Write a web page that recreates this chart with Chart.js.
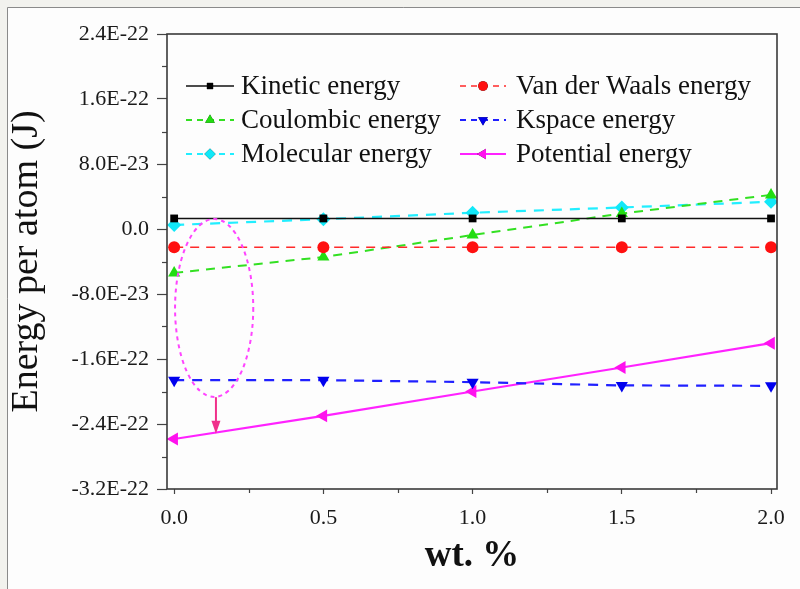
<!DOCTYPE html>
<html>
<head>
<meta charset="utf-8">
<script src="https://cdn.jsdelivr.net/npm/chart.js@4/dist/chart.umd.min.js"></script>
<style>
  html, body { margin: 0; padding: 0; background: #ffffff; }
  #wrap { width: 800px; height: 589px; position: relative; }
</style>
</head>
<body>
<div id="wrap"><canvas id="c" width="800" height="589"></canvas></div>
<script>
// ---- data ----
const wtPercent = [0.0, 0.5, 1.0, 1.5, 2.0];
const kineticEnergy    = [1.3e-23, 1.3e-23, 1.3e-23, 1.3e-23, 1.3e-23];
const vanDerWaals      = [-2.25e-23, -2.25e-23, -2.25e-23, -2.25e-23, -2.25e-23];
const coulombicEnergy  = [-5.4e-23, -3.45e-23, -7.4e-24, 1.9e-23, 4.2e-23];
const kspaceEnergy     = [-1.86e-22, -1.86e-22, -1.885e-22, -1.925e-22, -1.93e-22];
const molecularEnergy  = [5.0e-24, 1.2e-23, 2.0e-23, 2.65e-23, 3.35e-23];
const potentialEnergy  = [-2.585e-22, -2.30e-22, -2.00e-22, -1.705e-22, -1.405e-22];
const seriesNames = ["Kinetic energy", "Van der Waals energy", "Coulombic energy",
                     "Kspace energy", "Molecular energy", "Potential energy"];
const yTickValues = [-3.2e-22, -2.4e-22, -1.6e-22, -8.0e-23, 0, 8.0e-23, 1.6e-22, 2.4e-22];
const xTickValues = [0.0, 0.5, 1.0, 1.5, 2.0];
const yTitle = "Energy per atom (J)";
const xTitle = "wt. %";

const pts = arr => wtPercent.map((x, i) => ({x: x, y: arr[i]}));
const SERIF = "'Liberation Serif', 'DejaVu Serif', serif";

const datasets = [
  {label: seriesNames[0], data: pts(kineticEnergy), borderColor: '#111111', backgroundColor: '#000000',
   borderWidth: 1.6, pointStyle: 'rect', pointRadius: 5.5, borderDash: []},
  {label: seriesNames[1], data: pts(vanDerWaals), borderColor: '#ff2a2a', backgroundColor: '#ff1010',
   borderWidth: 1.6, pointStyle: 'circle', pointRadius: 6, borderDash: [9, 7]},
  {label: seriesNames[2], data: pts(coulombicEnergy), borderColor: '#33e022', backgroundColor: '#22dd11',
   borderWidth: 2, pointStyle: 'triangle', pointRadius: 7, borderDash: [9, 7]},
  {label: seriesNames[3], data: pts(kspaceEnergy), borderColor: '#2020ff', backgroundColor: '#0000ee',
   borderWidth: 2.2, pointStyle: 'triangle', pointRotation: 180, pointRadius: 7, borderDash: [10, 8]},
  {label: seriesNames[4], data: pts(molecularEnergy), borderColor: '#22eeff', backgroundColor: '#11e8f8',
   borderWidth: 2.2, pointStyle: 'rectRot', pointRadius: 7, borderDash: [10, 8]},
  {label: seriesNames[5], data: pts(potentialEnergy), borderColor: '#ff22ff', backgroundColor: '#ff11ee',
   borderWidth: 2.2, pointStyle: 'triangle', pointRotation: -90, pointRadius: 7.5, borderDash: []}
];
datasets.forEach(d => { d.pointBorderWidth = 0; d.pointBorderColor = d.backgroundColor; d.tension = 0; });

// annotation (in data units)
const ellipseNote = {cx: 0.134, cy: -0.972e-22, rx: 0.131, ry: 1.095e-22};
const arrowNote = {x: 0.14, yFrom: -2.07e-22, yTo: -2.52e-22};

function fmtTick(v) {
  if (Math.abs(v) < 1e-30) return '0.0';
  return v.toExponential(1).replace('e', 'E').replace('+', '');
}

const framePlugin = {
  id: 'frame',
  beforeDraw(chart) {
    const ctx = chart.ctx;
    ctx.save();
    ctx.fillStyle = '#f2f2ee';
    ctx.fillRect(0, 0, 800, 589);
    ctx.fillStyle = '#fdfdfd';
    ctx.fillRect(8, 8, 792, 581);
    ctx.strokeStyle = '#8a8a8a';
    ctx.lineWidth = 1;
    ctx.beginPath();
    ctx.moveTo(7.5, 589); ctx.lineTo(7.5, 7.5); ctx.lineTo(800, 7.5);
    ctx.stroke();
    ctx.restore();
  },
  afterDraw(chart) {
    const ctx = chart.ctx;
    const a = chart.chartArea;
    const xs = chart.scales.x, ys = chart.scales.y;
    ctx.save();
    ctx.strokeStyle = '#444444';
    ctx.lineWidth = 1.2;
    for (let i = 0; i < yTickValues.length - 1; i++) {
      const v = (yTickValues[i] + yTickValues[i + 1]) / 2;
      const py = Math.round(ys.getPixelForValue(v)) + 0.5;
      ctx.beginPath(); ctx.moveTo(a.left - 5, py); ctx.lineTo(a.left, py); ctx.stroke();
    }
    for (let i = 0; i < xTickValues.length - 1; i++) {
      const v = (xTickValues[i] + xTickValues[i + 1]) / 2;
      const px = Math.round(xs.getPixelForValue(v)) + 0.5;
      ctx.beginPath(); ctx.moveTo(px, a.bottom); ctx.lineTo(px, a.bottom + 4); ctx.stroke();
    }
    ctx.strokeStyle = '#3a3a3a';
    ctx.lineWidth = 1.6;
    ctx.strokeRect(a.left, a.top, a.right - a.left, a.bottom - a.top);
    ctx.restore();
  }
};

const notePlugin = {
  id: 'notes',
  afterDatasetsDraw(chart) {
    const ctx = chart.ctx;
    const xs = chart.scales.x, ys = chart.scales.y;
    const cx = xs.getPixelForValue(ellipseNote.cx);
    const cy = ys.getPixelForValue(ellipseNote.cy);
    const rx = xs.getPixelForValue(ellipseNote.cx + ellipseNote.rx) - cx;
    const ry = ys.getPixelForValue(ellipseNote.cy - ellipseNote.ry) - cy;
    ctx.save();
    ctx.strokeStyle = '#ff44ff';
    ctx.lineWidth = 2;
    ctx.setLineDash([4, 4]);
    ctx.beginPath();
    ctx.ellipse(cx, cy, rx, ry, 0, 0, Math.PI * 2);
    ctx.stroke();
    ctx.setLineDash([]);
    const ax = xs.getPixelForValue(arrowNote.x);
    const y1 = ys.getPixelForValue(arrowNote.yFrom);
    const y2 = ys.getPixelForValue(arrowNote.yTo);
    ctx.strokeStyle = '#f0308a';
    ctx.fillStyle = '#f0308a';
    ctx.lineWidth = 2;
    ctx.beginPath(); ctx.moveTo(ax, y1); ctx.lineTo(ax, y2 - 10); ctx.stroke();
    ctx.beginPath(); ctx.moveTo(ax - 4.5, y2 - 13); ctx.lineTo(ax + 4.5, y2 - 13); ctx.lineTo(ax, y2); ctx.closePath(); ctx.fill();
    ctx.restore();
  }
};

const legendPlugin = {
  id: 'customLegend',
  afterDraw(chart) {
    const ctx = chart.ctx;
    const cols = [{lx0: 186, lx1: 234, tx: 241}, {lx0: 460, lx1: 506, tx: 516}];
    const rows = [86, 120, 154];
    ctx.save();
    chart.data.datasets.forEach((ds, i) => {
      const c = cols[i % 2];
      const y = rows[Math.floor(i / 2)];
      ctx.strokeStyle = ds.borderColor;
      ctx.lineWidth = ds.borderWidth;
      ctx.setLineDash(ds.borderDash && ds.borderDash.length ? [6, 5] : []);
      ctx.beginPath(); ctx.moveTo(c.lx0, y); ctx.lineTo(c.lx1, y); ctx.stroke();
      ctx.setLineDash([]);
      Chart.helpers.drawPoint(ctx, {
        pointStyle: ds.pointStyle, rotation: ds.pointRotation || 0,
        radius: ds.pointRadius * 0.8, borderWidth: 0
      }, (c.lx0 + c.lx1) / 2, y);
      ctx.fillStyle = ds.backgroundColor;
      ctx.fill();
      ctx.fillStyle = '#111111';
      ctx.font = "27px " + SERIF;
      ctx.textBaseline = 'middle';
      ctx.textAlign = 'left';
      ctx.fillText(ds.label, c.tx, y + 1);
    });
    ctx.restore();
  }
};

new Chart(document.getElementById('c'), {
  type: 'line',
  data: {datasets: datasets},
  plugins: [framePlugin, notePlugin, legendPlugin],
  options: {
    responsive: false,
    animation: false,
    devicePixelRatio: 1,
    layout: {padding: {left: 0, top: 34, right: 23, bottom: 0}},
    plugins: {legend: {display: false}, tooltip: {enabled: false}},
    scales: {
      x: {
        type: 'linear', min: -0.024, max: 2.02,
        afterBuildTicks(s) { s.ticks = xTickValues.map(v => ({value: v})); },
        afterFit(s) { s.height = 100; },
        ticks: {callback: v => v.toFixed(1), color: '#1a1a1a', font: {family: SERIF, size: 22}, padding: 11, maxRotation: 0, autoSkip: false},
        grid: {display: true, drawOnChartArea: false, tickLength: 5, tickColor: '#444444', tickWidth: 1.2},
        border: {display: false},
        title: {display: true, text: xTitle, color: '#111111', font: {family: SERIF, size: 37, weight: 'bold'}, padding: {top: 0, bottom: 10}}
      },
      y: {
        type: 'linear', min: -3.2e-22, max: 2.4e-22,
        afterBuildTicks(s) { s.ticks = yTickValues.map(v => ({value: v})); },
        afterFit(s) { s.width = 167; },
        ticks: {callback: v => fmtTick(v), color: '#1a1a1a', font: {family: SERIF, size: 22}, padding: 8, autoSkip: false},
        grid: {display: true, drawOnChartArea: false, tickLength: 10, tickColor: '#444444', tickWidth: 1.2},
        border: {display: false},
        title: {display: true, text: yTitle, color: '#111111', font: {family: SERIF, size: 38}, padding: {top: 4, bottom: 0}}
      }
    }
  }
});
</script>
</body>
</html>
